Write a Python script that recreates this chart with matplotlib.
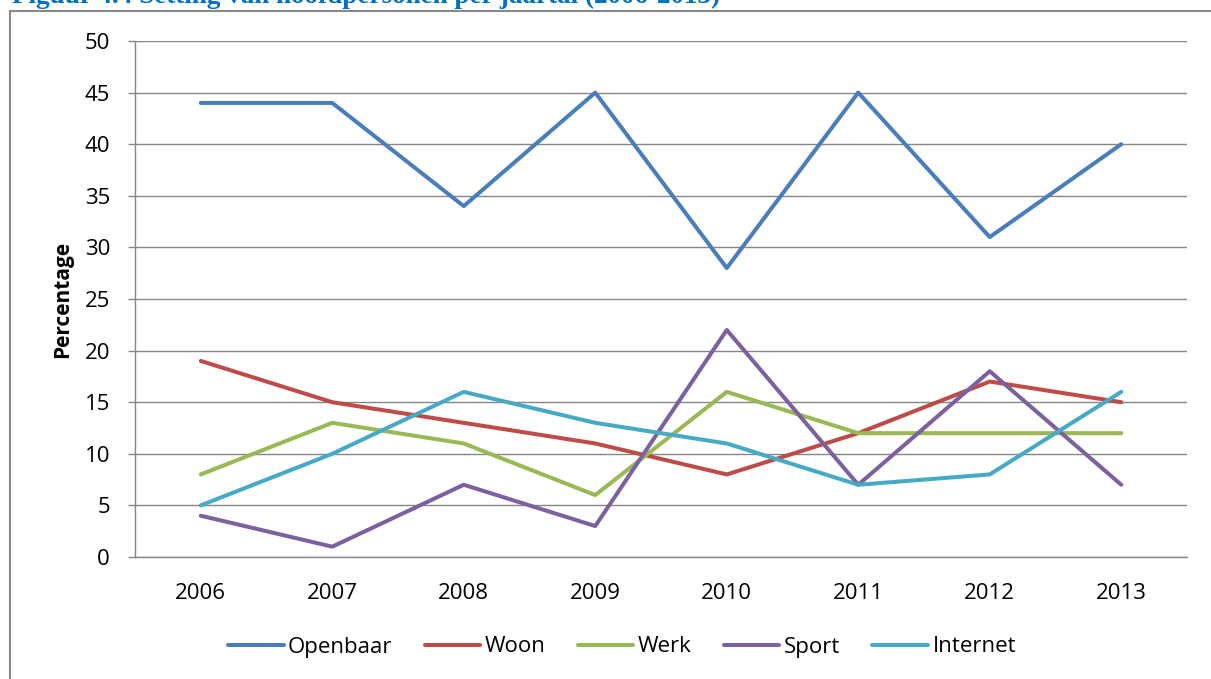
import matplotlib
matplotlib.use('Agg')
import matplotlib.pyplot as plt
from matplotlib.patches import Rectangle

plt.rcParams['font.family'] = ['Open Sans', 'DejaVu Sans']

# data
years = ['2006', '2007', '2008', '2009', '2010', '2011', '2012', '2013']
openbaar = [44, 44, 34, 45, 28, 45, 31, 40]
woon = [19, 15, 13, 11, 8, 12, 17, 15]
werk = [8, 13, 11, 6, 16, 12, 12, 12]
sport = [4, 1, 7, 3, 22, 7, 18, 7]
internet = [5, 10, 16, 13, 11, 7, 8, 16]

series_names = ['Openbaar', 'Woon', 'Werk', 'Sport', 'Internet']
series_values = [openbaar, woon, werk, sport, internet]
series_colors = ['#4A7EBB', '#BE4B48', '#98B954', '#7D60A0', '#46AAC5']

W, H = 1211, 679
fig = plt.figure(figsize=(W / 100, H / 100), dpi=100)
ax = fig.add_axes([135 / W, 1 - 557 / H, (1187 - 135) / W, (557 - 41) / H])

x = list(range(len(years)))
for name, vals, col in zip(series_names, series_values, series_colors):
    ax.plot(x, vals, color=col, linewidth=2.9, label=name,
            solid_capstyle='round', solid_joinstyle='round', zorder=3)

grid_col = '#868686'
ax.set_xlim(-0.5, len(years) - 0.5)
ax.set_ylim(0, 50)
ax.set_yticks(range(0, 51, 5))
ax.set_xticks(x)
ax.set_xticklabels(years)
ax.yaxis.grid(True, color=grid_col, linewidth=1.0)
ax.set_axisbelow(True)
for s in ['top', 'right']:
    ax.spines[s].set_visible(False)
for s in ['left', 'bottom']:
    ax.spines[s].set_color(grid_col)
    ax.spines[s].set_linewidth(1.0)
ax.tick_params(axis='y', length=5, color=grid_col, width=1.0, pad=13, labelsize=16)
ax.tick_params(axis='x', length=0, pad=19, labelsize=16)

ax.set_ylabel('Percentage', fontsize=15, fontweight='bold')
ax.yaxis.set_label_coords((73 - 135) / (1187 - 135), 0.5)

# legend at the bottom
fig.legend(loc='center', bbox_to_anchor=(622 / W, 1 - 647 / H), ncol=5,
           frameon=False, fontsize=16, handlelength=2.5, handletextpad=0.2,
           columnspacing=1.45)

# outer chart frame (cut off at right and bottom)
fig.patches.append(Rectangle((10 / W, -0.1), 1.2, 1.1 - 11.5 / H,
                             transform=fig.transFigure, fill=False,
                             edgecolor='#898989', linewidth=1.5))

# caption above the frame, cut off at the top edge as in the reference
fig.text(12 / W, 1 - 3 / H, 'Figuur 4.4 Setting van hoofdpersonen per jaartal (2006-2013)',
         family=['Liberation Serif', 'DejaVu Serif'], fontsize=19.5, fontweight='bold',
         color='#0070C0', va='baseline', ha='left')

fig.savefig('out.png', dpi=100)
